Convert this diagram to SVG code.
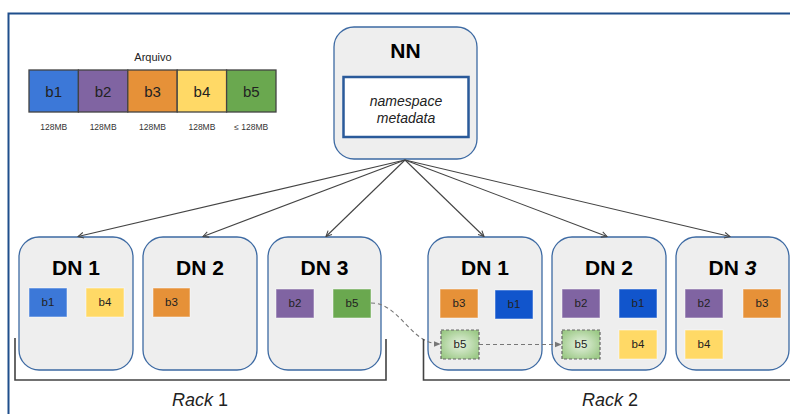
<svg xmlns="http://www.w3.org/2000/svg" width="790" height="414" viewBox="0 0 790 414">
<defs>
<style>
.frame{fill:none;stroke:#1f4e8c;stroke-width:2}
.node{fill:#eeeeee;stroke:#3d6aa3;stroke-width:1.3}
.title{font-family:Arial,"Liberation Sans",sans-serif;font-weight:bold;font-size:21px;fill:#000;text-anchor:middle}
.blk{stroke:#ffffff;stroke-opacity:0.5;stroke-width:1}
.bl{font-family:Arial,"Liberation Sans",sans-serif;font-size:11.5px;fill:#222;text-anchor:middle}
.leg{stroke:#434343;stroke-width:1.3}
.legl{font-family:Arial,"Liberation Sans",sans-serif;font-size:15px;fill:#222;text-anchor:middle}
.sz{font-family:Arial,"Liberation Sans",sans-serif;font-size:8.5px;fill:#333;text-anchor:middle}
.conn{fill:none;stroke:#444;stroke-width:1.1}
.dash{fill:none;stroke:#777;stroke-width:1.1;stroke-dasharray:4 3}
.rack{fill:none;stroke:#434343;stroke-width:1.6}
.rackt{font-family:Arial,"Liberation Sans",sans-serif;font-size:18px;fill:#222;text-anchor:middle}
.c1{fill:#3c78d8}.c1d{fill:#1155cc}.c2{fill:#8064a2}.c3{fill:#e69138}.c4{fill:#ffd966}.c5{fill:#6aa84f}
.ghost{fill:url(#gg);stroke:#666;stroke-width:1.2;stroke-dasharray:3 2}
</style>
<radialGradient id="gg" cx="0.5" cy="0.5" r="0.6">
<stop offset="0" stop-color="#e6f2e0"/>
<stop offset="1" stop-color="#9cc987"/>
</radialGradient>
<marker id="ah" viewBox="0 0 10 10" refX="9" refY="5" markerWidth="7" markerHeight="7" orient="auto" markerUnits="userSpaceOnUse">
<path d="M1,1 L9,5 L1,9" fill="none" stroke="#444" stroke-width="1.5"/>
</marker>
<marker id="ahd" viewBox="0 0 10 10" refX="9" refY="5" markerWidth="7" markerHeight="7" orient="auto" markerUnits="userSpaceOnUse">
<path d="M0,1 L10,5 L0,9 Z" fill="#777"/>
</marker>
</defs>
<rect width="790" height="414" fill="#ffffff"/>
<path class="frame" d="M8.5,414 V13.5 H790"/>

<g id="legend">
<text x="153" y="61" font-family="Arial,'Liberation Sans',sans-serif" font-size="11" fill="#222" text-anchor="middle">Arquivo</text>
<rect class="leg c1" x="29" y="70" width="49.4" height="42"/>
<rect class="leg c2" x="78.4" y="70" width="49.4" height="42"/>
<rect class="leg c3" x="127.8" y="70" width="49.4" height="42"/>
<rect class="leg c4" x="177.2" y="70" width="49.4" height="42"/>
<rect class="leg c5" x="226.6" y="70" width="49.4" height="42"/>
<text class="legl" x="53.7" y="97">b1</text>
<text class="legl" x="103.1" y="97">b2</text>
<text class="legl" x="152.5" y="97">b3</text>
<text class="legl" x="201.9" y="97">b4</text>
<text class="legl" x="251.3" y="97">b5</text>
<text class="sz" x="53.7" y="130">128MB</text>
<text class="sz" x="103.1" y="130">128MB</text>
<text class="sz" x="152.5" y="130">128MB</text>
<text class="sz" x="201.9" y="130">128MB</text>
<text class="sz" x="251.3" y="130">≤ 128MB</text>
</g>

<g id="NN">
<rect class="node" x="334" y="27" width="143" height="132" rx="20"/>
<text class="title" x="405.5" y="58">NN</text>
<rect x="343.5" y="77" width="125" height="60" fill="#ffffff" stroke="#2a5a9a" stroke-width="2.5"/>
<text x="406" y="106" font-family="Arial,'Liberation Sans',sans-serif" font-style="italic" font-size="14" fill="#222" text-anchor="middle">namespace</text>
<text x="406" y="123" font-family="Arial,'Liberation Sans',sans-serif" font-style="italic" font-size="14" fill="#222" text-anchor="middle">metadata</text>
</g>

<g id="r1-dn1">
<rect class="node" x="19" y="237" width="114" height="133" rx="20"/>
<text class="title" x="76" y="275">DN 1</text>
<rect class="blk c1" x="29" y="288" width="38" height="29"/><text class="bl" x="48" y="306">b1</text>
<rect class="blk c4" x="86" y="288" width="38" height="29"/><text class="bl" x="105" y="306">b4</text>
</g>
<g id="r1-dn2">
<rect class="node" x="143" y="237" width="114" height="133" rx="20"/>
<text class="title" x="200" y="275">DN 2</text>
<rect class="blk c3" x="153" y="288" width="37" height="29"/><text class="bl" x="171.5" y="306">b3</text>
</g>
<g id="r1-dn3">
<rect class="node" x="268" y="237" width="113" height="133" rx="20"/>
<text class="title" x="324.5" y="275">DN 3</text>
<rect class="blk c2" x="276" y="289" width="38" height="29"/><text class="bl" x="295" y="307">b2</text>
<rect class="blk c5" x="333" y="289" width="38" height="29"/><text class="bl" x="352" y="307">b5</text>
</g>

<g id="r2-dn1">
<rect class="node" x="428" y="237" width="114" height="133" rx="20"/>
<text class="title" x="485" y="275">DN 1</text>
<rect class="blk c3" x="440" y="289" width="38" height="29"/><text class="bl" x="459" y="307">b3</text>
<rect class="blk c1d" x="495" y="290" width="38" height="29"/><text class="bl" x="514" y="308">b1</text>
<rect class="ghost" x="441" y="330" width="38" height="29"/><text class="bl" x="460" y="348">b5</text>
</g>
<g id="r2-dn2">
<rect class="node" x="552" y="237" width="114" height="133" rx="20"/>
<text class="title" x="609" y="275">DN 2</text>
<rect class="blk c2" x="562" y="289" width="38" height="29"/><text class="bl" x="581" y="307">b2</text>
<rect class="blk c1d" x="619" y="289" width="38" height="29"/><text class="bl" x="638" y="307">b1</text>
<rect class="ghost" x="562" y="330" width="38" height="29"/><text class="bl" x="581" y="348">b5</text>
<rect class="blk c4" x="619" y="330" width="38" height="29"/><text class="bl" x="638" y="348">b4</text>
</g>
<g id="r2-dn3">
<rect class="node" x="676" y="237" width="113" height="133" rx="20"/>
<text class="title" x="732.5" y="275">DN <tspan font-style="italic">3</tspan></text>
<rect class="blk c2" x="685" y="289" width="38" height="29"/><text class="bl" x="704" y="307">b2</text>
<rect class="blk c3" x="743" y="289" width="38" height="29"/><text class="bl" x="762" y="307">b3</text>
<rect class="blk c4" x="685" y="330" width="38" height="29"/><text class="bl" x="704" y="348">b4</text>
</g>

<g id="connectors">
<path class="conn" d="M405,160 L78,236.5" marker-end="url(#ah)"/>
<path class="conn" d="M405,160 L203,236.5" marker-end="url(#ah)"/>
<path class="conn" d="M405,160 L326,236.5" marker-end="url(#ah)"/>
<path class="conn" d="M405,160 L484,236.5" marker-end="url(#ah)"/>
<path class="conn" d="M405,160 L607,236.5" marker-end="url(#ah)"/>
<path class="conn" d="M405,160 L730,236.5" marker-end="url(#ah)"/>
<path class="dash" d="M371,303 C400,303 410,344 440,344" marker-end="url(#ahd)"/>
<path class="dash" d="M479,344.5 L561,344.5" marker-end="url(#ahd)"/>
</g>

<g id="rack1">
<path class="rack" d="M15,338 V380 H386 V339"/>
<text class="rackt" x="200" y="406"><tspan font-style="italic">Rack</tspan> 1</text>
</g>
<g id="rack2">
<path class="rack" d="M423.5,339 V380 H790"/>
<text class="rackt" x="610" y="406"><tspan font-style="italic">Rack</tspan> 2</text>
</g>
</svg>
